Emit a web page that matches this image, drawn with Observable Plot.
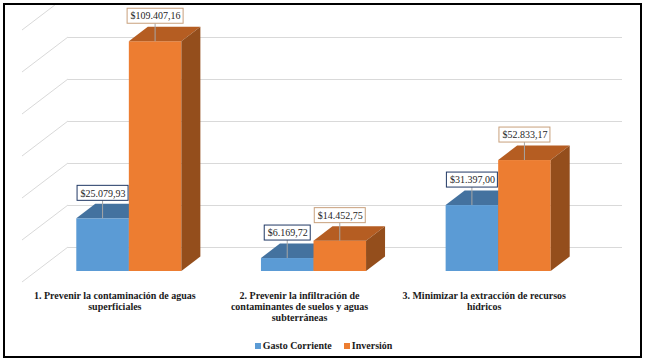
<!DOCTYPE html>
<html><head><meta charset="utf-8">
<script src="https://cdn.jsdelivr.net/npm/d3@7"></script>
<script src="https://cdn.jsdelivr.net/npm/@observablehq/plot@0.6"></script>
<style>
body{margin:0;background:#fff;}
#wrap{position:relative;width:647px;height:364px;overflow:hidden;}
#chart svg{display:block;}
#frame{position:absolute;left:3px;top:3px;width:639px;height:355px;border:2px solid #000;box-sizing:border-box;pointer-events:none;}
#legend{position:absolute;left:0;top:335px;width:647px;text-align:center;font:bold 10px "Liberation Serif";line-height:22px;color:#1a1a1a;}
#legend .sw{display:inline-block;width:6px;height:6px;margin-right:2px;vertical-align:0px;}
#legend .it{margin:0 6px;}
</style></head>
<body>
<div id="wrap"><div id="chart"></div><div id="legend"></div><div id="frame"></div></div>
<script>
// ---- data ----
const categories = [
  "1. Prevenir la contaminación de aguas\nsuperficiales",
  "2. Prevenir la infiltración de\ncontaminantes de suelos y aguas\nsubterráneas",
  "3. Minimizar la extracción de recursos\nhídricos"
];
const seriesNames = ["Gasto Corriente", "Inversión"];
const gastoCorriente = [25079.93, 6169.72, 31397.00];
const inversion = [109407.16, 14452.75, 52833.17];
const yTicks = [0, 20000, 40000, 60000, 80000, 100000, 120000];

// ---- styles ----
const colors = {
  gasto: {front: "#5B9BD5", top: "#44729F", side: "#3A6590", label: "#203864"},
  inv: {front: "#ED7D31", top: "#B55D22", side: "#944E1C", label: "#C8A07C"}
};
const DX = 19, DY = -14.5;        // bar depth
const WDX = 31.5, WDY = -24;      // back wall offset
const FDX = -14.5, FDY = 11;      // floor front offset
const GAP = 18;                   // label gap
const font = "Liberation Serif";

const rows = categories.map((c, i) => ({cat: c, gasto: gastoCorriente[i], inv: inversion[i]}));
const es = d3.formatLocale({decimal: ",", thousands: ".", grouping: [3], currency: ["$", ""]});
const fmt = es.format("$,.2f");

const cv = document.createElement("canvas").getContext("2d");
cv.font = `10px "${font}"`;
const measure = (s) => cv.measureText(s).width;

function bar3d(key, side) {
  const c = colors[key];
  return Plot.barY(rows, {
    x: "cat", y: key, fill: c.front,
    insetLeft: side ? 52.54 : 0, insetRight: side ? 0 : 52.54,
    render(index, scales, values, dims, context, next) {
      const g = next(index, scales, values, dims, context);
      const bw = scales.x.bandwidth();
      for (const i of index) {
        const xl = scales.x(rows[i].cat) + side * bw / 2;
        const xr = xl + bw / 2;
        const yt = scales.y(rows[i][key]), yb = scales.y(0);
        d3.select(g).append("polygon")
          .attr("points", [[xl, yt], [xr, yt], [xr + DX, yt + DY], [xl + DX, yt + DY]].join(" "))
          .attr("fill", c.top);
        d3.select(g).append("polygon")
          .attr("points", [[xr, yt], [xr + DX, yt + DY], [xr + DX, yb + DY], [xr, yb]].join(" "))
          .attr("fill", c.side);
      }
      return g;
    }
  });
}

function labels3d(key, side) {
  const c = colors[key];
  return Plot.text(rows, {
    x: "cat", y: key, text: (d) => fmt(d[key]),
    dx: side ? 26.27 : -26.27, dy: -GAP - 7.5,
    fontFamily: font, fontSize: 10, fill: "#262626",
    render(index, scales, values, dims, context, next) {
      const g = d3.create("svg:g");
      const bw = scales.x.bandwidth();
      for (const i of index) {
        const cx = scales.x(rows[i].cat) + bw * (side ? 0.75 : 0.25);
        const yt = scales.y(rows[i][key]);
        const w = measure(fmt(rows[i][key])) + 6;
        g.append("line").attr("x1", cx).attr("x2", cx).attr("y1", yt).attr("y2", yt - GAP)
          .attr("stroke", "#a6a6a6").attr("stroke-width", 1);
        g.append("rect").attr("x", cx - w / 2).attr("y", yt - GAP - 15).attr("width", w).attr("height", 15)
          .attr("fill", "#fff").attr("stroke", c.label).attr("stroke-width", 1);
      }
      g.append(() => next(index, scales, values, dims, context));
      return g.node();
    }
  });
}

const plot = Plot.plot({
  width: 647, height: 335,
  marginLeft: 36.5, marginRight: 56.5, marginTop: 19, marginBottom: 64,
  x: {type: "band", domain: categories, paddingInner: 0.431, paddingOuter: 0.2155, round: false, axis: null},
  y: {domain: [0, 120000], axis: null},
  style: {background: "transparent"},
  marks: [
    Plot.ruleY(yTicks, {dx: WDX, dy: WDY, stroke: "#d9d9d9", strokeWidth: 1}),
    Plot.ruleY(yTicks, {
      stroke: "#d9d9d9",
      render(index, scales, values, dims) {
        const g = d3.create("svg:g").attr("stroke", "#d9d9d9").attr("stroke-width", 1);
        const x0 = dims.marginLeft;
        for (const i of index) {
          const y = scales.y(yTicks[i]);
          let bx = x0 + WDX, by = y + WDY;
          const fx = x0 + FDX, fy = y + FDY;
          if (by < 5) { const t = (5 - fy) / (by - fy); bx = fx + t * (bx - fx); by = 5; }
          g.append("line").attr("x1", fx).attr("y1", fy).attr("x2", bx).attr("y2", by);
        }
        return g.node();
      }
    }),
    bar3d("gasto", 0),
    bar3d("inv", 1),
    labels3d("gasto", 0),
    labels3d("inv", 1),
    Plot.text(rows, {
      x: "cat", text: "cat", frameAnchor: "bottom", dx: FDX, dy: 19.5,
      lineAnchor: "top", lineHeight: 1.1, fontFamily: font, fontSize: 10, fontWeight: "bold", fill: "#1a1a1a"
    })
  ]
});
document.getElementById("chart").append(plot);

const legend = document.getElementById("legend");
legend.innerHTML = seriesNames.map((s, i) =>
  `<span class="it"><span class="sw" style="background:${i ? colors.inv.front : colors.gasto.front}"></span>${s}</span>`).join("");
</script>
</body></html>
